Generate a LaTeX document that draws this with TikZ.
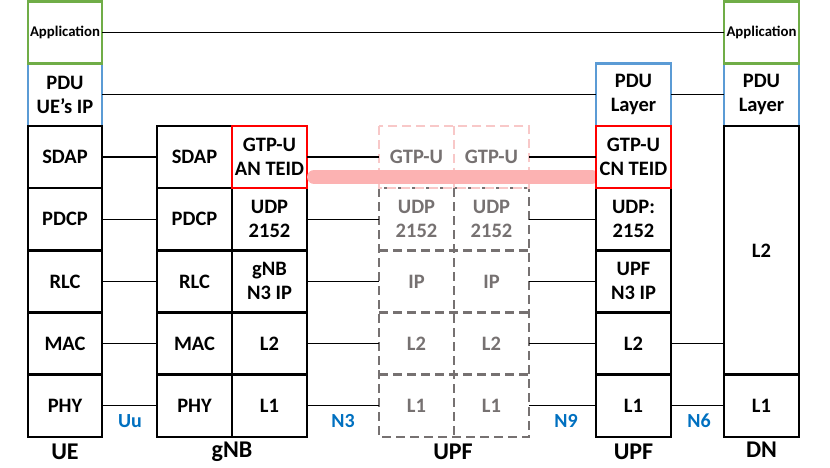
\documentclass[tikz,border=0pt]{standalone}
\usepackage{fontspec}
\setmainfont{Carlito}
\definecolor{appgreen}{RGB}{112,173,71}
\definecolor{pdublue}{RGB}{91,155,213}
\definecolor{ifblue}{RGB}{0,112,192}
\definecolor{dgray}{RGB}{118,113,113}
\definecolor{lpink}{RGB}{248,200,200}
\definecolor{barpink}{RGB}{252,178,178}
\newcommand\lblfont{\bfseries\fontsize{20.5}{24}\selectfont}
\newcommand\appfont{\bfseries\fontsize{14.8}{16}\selectfont}
\newcommand\botfont{\bfseries\fontsize{24}{28}\selectfont}
\newcommand\iffont{\bfseries\fontsize{20}{24}\selectfont}
\begin{document}
\begin{tikzpicture}[x=1pt,y=-1pt,
  blk/.style={draw=black,line width=2.5pt,fill=white,minimum width=75pt,minimum height=62.2pt,inner sep=0pt,outer sep=0pt,align=center,font=\lblfont},
  appbox/.style={blk,draw=appgreen,font=\appfont},
  pdubox/.style={blk,draw=pdublue},
  redbox/.style={blk,draw=red},
  midbox/.style={minimum width=75pt,minimum height=62.2pt,inner sep=0pt,outer sep=0pt,align=center,font=\lblfont,text=dgray},
  grayd/.style={draw=dgray,line width=2.5pt,dash pattern=on 9pt off 5pt},
  pinkd/.style={draw=lpink,line width=2.5pt,dash pattern=on 9pt off 5pt},
  conn/.style={draw=black,line width=1.2pt},
  iflbl/.style={text=ifblue,font=\iffont,inner sep=0pt},
  botlbl/.style={font=\botfont,inner sep=0pt},
  pinkbar/.style={draw=barpink,line width=14pt,line cap=round}]
\useasboundingbox (0,0) rectangle (830,467);

% ---------- UE ----------
\node[pdubox,minimum width=74pt] (uepdu) at (65,94.8) {PDU\\UE’s IP};
\node[appbox,minimum width=74pt] (ueapp) at (65,32.6) {Application};
\node[blk,minimum width=74pt] (uesdap) at (65,157.0) {SDAP};
\node[blk,minimum width=74pt] (uepdcp) at (65,219.2) {PDCP};
\node[blk,minimum width=74pt] (uerlc) at (65,281.4) {RLC};
\node[blk,minimum width=74pt] (uemac) at (65,343.6) {MAC};
\node[blk,minimum width=74pt] (uephy) at (65,405.8) {PHY};

% ---------- gNB ----------
\node[blk] (gsdap) at (194.5,157.0) {SDAP};
\node[blk] (gpdcp) at (194.5,219.2) {PDCP};
\node[blk] (grlc) at (194.5,281.4) {RLC};
\node[blk] (gmac) at (194.5,343.6) {MAC};
\node[blk] (gphy) at (194.5,405.8) {PHY};
\node[blk] (gudp) at (269.5,219.2) {UDP\\2152};
\node[blk] (gip) at (269.5,281.4) {gNB\\N3 IP};
\node[blk] (gl2) at (269.5,343.6) {L2};
\node[blk] (gl1) at (269.5,405.8) {L1};
\node[redbox] (ggtp) at (269.5,157.0) {GTP-U\\AN TEID};

% ---------- intermediate UPF (dashed) ----------
\node[midbox] (mgtpL) at (416.5,157.0) {GTP-U};
\node[midbox] (mgtpR) at (491.5,157.0) {GTP-U};
\node[midbox] (mudpL) at (416.5,219.2) {UDP\\2152};
\node[midbox] (mudpR) at (491.5,219.2) {UDP\\2152};
\node[midbox] (mipL) at (416.5,281.4) {IP};
\node[midbox] (mipR) at (491.5,281.4) {IP};
\node[midbox] (ml2L) at (416.5,343.6) {L2};
\node[midbox] (ml2R) at (491.5,343.6) {L2};
\node[midbox] (ml1L) at (416.5,405.8) {L1};
\node[midbox] (ml1R) at (491.5,405.8) {L1};
\draw[grayd] (mudpL.north west) rectangle (ml1R.south east);
\draw[grayd] (mudpL.north east) -- (ml1L.south east);
\draw[grayd] (mudpL.south west) -- (mudpR.south east);
\draw[grayd] (mipL.south west) -- (mipR.south east);
\draw[grayd] (ml2L.south west) -- (ml2R.south east);
\draw[pinkd] (mgtpL.north west) rectangle (mgtpR.south east);
\draw[pinkd] (mgtpL.north east) -- (mgtpL.south east);

% ---------- UPF (anchor) ----------
\node[pdubox] (updu) at (633.5,94.8) {PDU\\Layer};
\node[blk] (uudp) at (633.5,219.2) {UDP:\\2152};
\node[blk] (uip) at (633.5,281.4) {UPF\\N3 IP};
\node[blk] (ul2) at (633.5,343.6) {L2};
\node[blk] (ul1) at (633.5,405.8) {L1};

% ---------- DN ----------
\node[pdubox] (dpdu) at (761.5,94.8) {PDU\\Layer};
\node[appbox] (dapp) at (761.5,32.6) {Application};
\node[blk,minimum height=248.8pt] (dl2) at (761.5,250.3) {L2};
\node[blk] (dl1) at (761.5,405.8) {L1};

% ---------- pink highlight ----------
\coordinate (pbA) at (314,177);
\coordinate (pbB) at (592,177);
\draw[pinkbar] (pbA) -- (pbB);
\node[redbox] (ugtp) at (633.5,157.0) {GTP-U\\CN TEID};

% ---------- connectors ----------
\draw[conn] (ueapp.east) -- (dapp.west);
\draw[conn] (uepdu.east) -- (updu.west);
\draw[conn] (updu.east) -- (dpdu.west);
\draw[conn] (uesdap.east) -- (gsdap.west);
\draw[conn] (uepdcp.east) -- (gpdcp.west);
\draw[conn] (uerlc.east) -- (grlc.west);
\draw[conn] (uemac.east) -- (gmac.west);
\draw[conn] (uephy.east) -- (gphy.west);
\draw[conn] (ggtp.east) -- (mgtpL.west);
\draw[conn] (gudp.east) -- (mudpL.west);
\draw[conn] (gip.east) -- (mipL.west);
\draw[conn] (gl2.east) -- (ml2L.west);
\draw[conn] (gl1.east) -- (ml1L.west);
\draw[conn] (mgtpR.east) -- (ugtp.west);
\draw[conn] (mudpR.east) -- (uudp.west);
\draw[conn] (mipR.east) -- (uip.west);
\draw[conn] (ml2R.east) -- (ul2.west);
\draw[conn] (ml1R.east) -- (ul1.west);
\draw[conn] (ul2.east) -- (ul2.east -| dl2.west);
\draw[conn] (ul1.east) -- (dl1.west);

% ---------- interface labels ----------
\node[iflbl] (uu) at (130,421) {Uu};
\node[iflbl] (n3) at (343,421) {N3};
\node[iflbl] (n9) at (566,421) {N9};
\node[iflbl] (n6) at (699,421) {N6};

% ---------- entity labels ----------
\node[botlbl] (lue) at (65,452) {UE};
\node[botlbl] (lgnb) at (232,452) {gNB};
\node[botlbl] (lupf1) at (453,452) {UPF};
\node[botlbl] (lupf2) at (633.5,452) {UPF};
\node[botlbl] (ldn) at (761.5,450) {DN};
\end{tikzpicture}
\end{document}
